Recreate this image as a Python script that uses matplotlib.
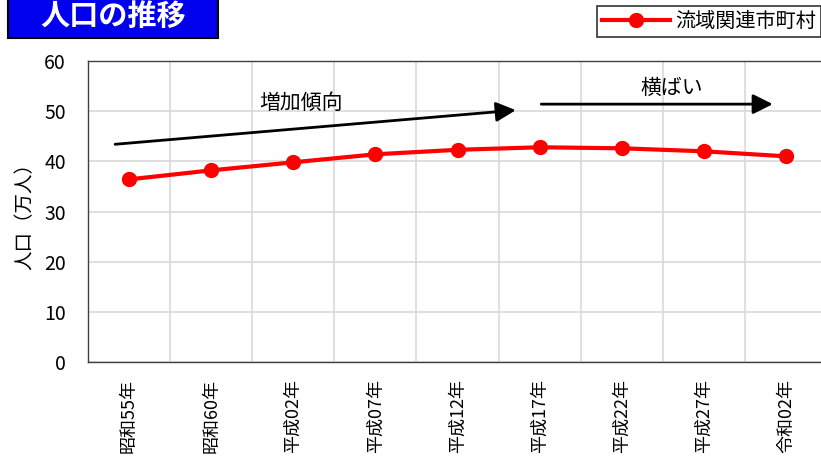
import matplotlib
matplotlib.use("Agg")
import matplotlib.pyplot as plt
from matplotlib.patches import Rectangle

plt.rcParams['font.family'] = ['Noto Sans CJK JP', 'DejaVu Sans']

categories = ["昭和55年", "昭和60年", "平成02年", "平成07年", "平成12年",
              "平成17年", "平成22年", "平成27年", "令和02年"]
population = [36.4, 38.2, 39.8, 41.4, 42.3, 42.8, 42.6, 42.0, 41.0]
series_name = "流域関連市町村"
title = "人口の推移"
ylabel = "人口（万人）"
yticks = [0, 10, 20, 30, 40, 50, 60]

fig = plt.figure(figsize=(8.21, 4.61), dpi=100)
W, H = 821, 461
ax = fig.add_axes([88 / W, 1 - 362 / H, (827 - 88) / W, (362 - 61) / H])

x = list(range(len(categories)))
line, = ax.plot(x, population, color="#ff0000", lw=3, marker="o", ms=10,
                label=series_name, zorder=3, clip_on=False)

ax.set_xlim(-0.5, len(categories) - 0.5)
ax.set_ylim(0, 60)
ax.set_yticks(yticks)
ax.set_yticklabels([str(v) for v in yticks], fontsize=14)
ax.set_xticks([i + 0.5 for i in range(-1, len(categories))])
ax.set_xticklabels([])
ax.tick_params(axis="both", length=0)
ax.tick_params(axis="y", pad=16)
ax.grid(True, color="#d9d9d9", lw=1.2)
ax.set_axisbelow(True)
for i, c in enumerate(categories):
    ax.text(i, -3.4, c, rotation=90, ha="center", va="top", fontsize=13)
for s in ["left", "bottom", "top"]:
    ax.spines[s].set_color("#404040")
    ax.spines[s].set_linewidth(1)
ax.spines["right"].set_visible(False)
ax.set_ylabel(ylabel, fontsize=14, labelpad=6)

# annotations
astyle = dict(arrowstyle="-|>,head_length=0.6,head_width=0.3",
              color="black", lw=2, mutation_scale=20,
              shrinkA=0, shrinkB=0)
ax.annotate("", xy=(4.71, 50.2), xytext=(-0.17, 43.4), arrowprops=astyle)
ax.text(2.09, 51.6, "増加傾向", fontsize=15, ha="center", va="center")
ax.annotate("", xy=(7.84, 51.4), xytext=(5.02, 51.4), arrowprops=astyle)
ax.text(6.61, 54.7, "横ばい", fontsize=15, ha="center", va="center")

# title box
fig.patches.append(Rectangle((8 / W, 1 - 38 / H), (218 - 8) / W, 45 / H,
                             transform=fig.transFigure, facecolor="#0000ee",
                             edgecolor="black", lw=1.5))
fig.text(113 / W, 1 - 16 / H, title, color="white", fontsize=21,
         fontweight="bold", ha="center", va="center")

# legend
leg = fig.legend(handles=[line], loc="upper right",
                 bbox_to_anchor=(1.0, 1 - 6 / H), fontsize=14.5,
                 frameon=True, fancybox=False, edgecolor="black",
                 handlelength=3.4, borderpad=0.25, handletextpad=0.25,
                 borderaxespad=0)
leg.get_frame().set_linewidth(1.2)

fig.savefig("out.png", dpi=100)
